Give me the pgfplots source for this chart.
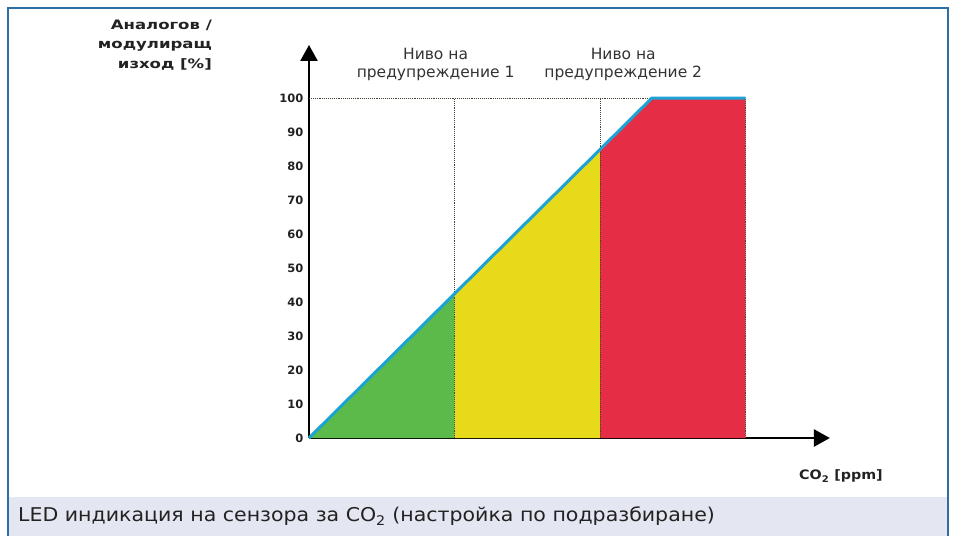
\documentclass[border=0pt]{standalone}
\usepackage{fontspec}
\setmainfont{DejaVu Sans}
\newfontfamily\capfont[FakeStretch=1.08]{DejaVu Sans}
\newfontfamily\titlefont[FakeStretch=1.27]{DejaVu Sans}
\newfontfamily\cofont[FakeStretch=1.1]{DejaVu Sans}
\usepackage{pgfplots}
\pgfplotsset{compat=1.18}
\usetikzlibrary{arrows.meta}
\definecolor{cgreen}{HTML}{5BBA4A}
\definecolor{cyellow}{HTML}{E6DA1A}
\definecolor{cred}{HTML}{E52D45}
\definecolor{cblue}{HTML}{1BA3D6}
\definecolor{cframe}{HTML}{2F6EA5}
\definecolor{cband}{HTML}{E4E7F1}
\definecolor{cdot}{HTML}{444433}
\definecolor{ctext}{HTML}{222222}
\begin{document}
\begin{tikzpicture}[x=1pt,y=1pt]
\fill[white] (0,0) rectangle (953,-536);
\fill[cband] (8,-497) rectangle (947,-536);
\draw[cframe, line width=2pt] (7.5,-536) -- (7.5,-8) -- (947.5,-8) -- (947.5,-536);
\node[anchor=west, font=\capfont\fontsize{19}{21}\selectfont, text=ctext, inner sep=0pt] at (18,-516) {LED индикация на сензора за CO\textsubscript{2} (настройка по подразбиране)};
\node[align=right, font=\titlefont\bfseries\fontsize{13}{19.5}\selectfont, anchor=east, text=ctext, inner sep=0pt] at (212,-45) {Аналогов /\\модулиращ\\изход [\%]};
\node[font=\cofont\bfseries\fontsize{13}{15}\selectfont, anchor=center, text=ctext] at (841,-476) {CO\textsubscript{2} [ppm]};
\begin{axis}[
  at={(309pt,-438pt)}, anchor=origin,
  x=145.5pt, y=3.4pt,
  xmin=0, xmax=3.58, ymin=0, ymax=115.6,
  axis x line=bottom, axis y line=left,
  axis line style={line width=2.4pt, -{Triangle[length=16pt,width=17pt]}},
  xtick=\empty,
  ytick={0,10,...,100},
  major tick length=0pt,
  yticklabel style={font=\bfseries\fontsize{11.5}{13}\selectfont, xshift=-2pt, text=ctext},
  /pgf/number format/assume math mode=true,
  clip=false,
]
\addplot[fill=cgreen, draw=none] coordinates {(0,0) (1,42.4) (1,0)} -- cycle;
\addplot[fill=cyellow, draw=none] coordinates {(1,0) (1,42.4) (2,84.8) (2,0)} -- cycle;
\addplot[fill=cred, draw=none] coordinates {(2,0) (2,84.8) (2.357,100) (3,100) (3,0)} -- cycle;
\addplot[cdot, densely dotted, line width=0.9pt] coordinates {(0,100) (3,100)};
\addplot[cdot, densely dotted, line width=0.9pt] coordinates {(1,0) (1,100)};
\addplot[cdot, densely dotted, line width=0.9pt] coordinates {(2,0) (2,100)};
\addplot[cdot, densely dotted, line width=0.9pt] coordinates {(3,0) (3,100)};
\addplot[cblue, line width=3pt] coordinates {(0,0) (2.357,100) (3,100)};
\node[align=center, font=\fontsize{15.5}{17.5}\selectfont, text=black!80] at (axis cs:0.87,109.8) {Ниво на\\предупреждение 1};
\node[align=center, font=\fontsize{15.5}{17.5}\selectfont, text=black!80] at (axis cs:2.16,109.8) {Ниво на\\предупреждение 2};
\end{axis}
\pgfresetboundingbox
\path (0,0) rectangle (953,-536);
\end{tikzpicture}
\end{document}
